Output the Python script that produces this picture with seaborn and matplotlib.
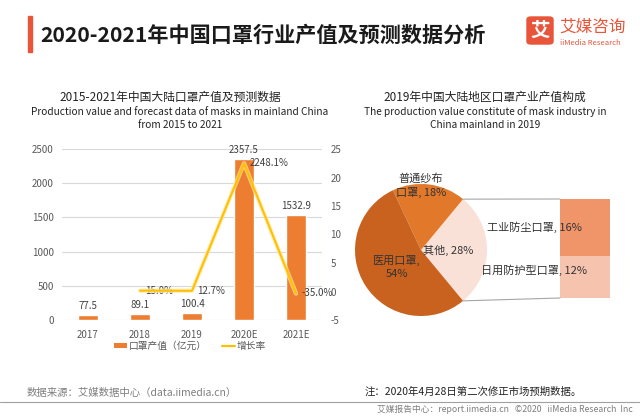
import matplotlib
matplotlib.use("Agg")
import matplotlib.pyplot as plt
import matplotlib.patheffects as pe
import seaborn as sns
import numpy as np
import pandas as pd
from matplotlib.patches import ConnectionPatch, FancyBboxPatch, Rectangle
from matplotlib.lines import Line2D
from matplotlib.patches import Patch

# ---------------- data ----------------
years = ["2017", "2018", "2019", "2020E", "2021E"]
output_value = [77.5, 89.1, 100.4, 2357.5, 1532.9]
growth_years = ["2018", "2019", "2020E", "2021E"]
growth_rate = [0.150, 0.127, 22.481, -0.350]
growth_labels = ["15.0%", "12.7%", "2248.1%", "-35.0%"]

pie_labels = ["其他, 28%", "普通纱布\n口罩, 18%", "医用口罩,\n54%"]
pie_values = [28, 18, 54]
sub_labels = ["日用防护型口罩, 12%", "工业防尘口罩, 16%"]
sub_values = [12, 16]

left_ticks = [0, 500, 1000, 1500, 2000, 2500]
right_ticks = [-5, 0, 5, 10, 15, 20, 25]

# ---------------- style ----------------
sns.set_theme(style="white")
plt.rcParams["font.family"] = ["Noto Sans CJK SC", "DejaVu Sans"]
plt.rcParams["axes.unicode_minus"] = False

BAR = "#ED7D31"
LINE = "#FFC000"
GRAY = "#595959"
C_PIE = ["#F9E1D8", "#E2782A", "#C8621E"]
C_SUB = ["#F6C3AE", "#F0946A"]

W, H = 640, 416
fig = plt.figure(figsize=(6.4, 4.16), dpi=100)
fig.patch.set_facecolor("white")


def px(x0, y0, x1, y1):
    return [x0 / W, 1 - y1 / H, (x1 - x0) / W, (y1 - y0) / H]


def ftext(x, y, s, **kw):
    fig.text(x / W, 1 - y / H, s, **kw)


# ---------------- header ----------------
fig.patches.append(Rectangle((28 / W, 1 - 52 / H), 4 / W, 36 / H,
                             transform=fig.transFigure, color="#E8553A", zorder=3))
ftext(40, 35, "2020-2021年中国口罩行业产值及预测数据分析", fontsize=15.2,
      fontweight="bold", color="#1a1a1a", va="center", ha="left")
fig.patches.append(FancyBboxPatch((527 / W, 1 - 44 / H), 26 / W, 27 / H,
                                  boxstyle="round,pad=0,rounding_size=0.006",
                                  transform=fig.transFigure, color="#E8553A", zorder=3))
ftext(540, 31, "艾", fontsize=14, fontweight="bold", color="white", ha="center", va="center", zorder=4)
ftext(559, 27, "艾媒咨询", fontsize=12, color="#E8553A", ha="left", va="center")
ftext(560, 43, "iiMedia Research", fontsize=5.5, color="#E8553A", ha="left", va="center")

# ---------------- left chart ----------------
ftext(170, 97, "2015-2021年中国大陆口罩产值及预测数据", fontsize=8.5, color="#222222", ha="center", va="center")
ftext(180, 112, "Production value and forecast data of masks in mainland China",
      fontsize=7.3, color="#222222", ha="center", va="center")
ftext(180, 125, "from 2015 to 2021", fontsize=7.3, color="#222222", ha="center", va="center")

ax = fig.add_axes(px(62, 149, 322, 320))
df = pd.DataFrame({"year": years, "value": output_value})
sns.barplot(data=df, x="year", y="value", color=BAR, width=0.4, saturation=1,
            ax=ax, zorder=3)
ax.set_ylim(left_ticks[0], left_ticks[-1])
ax.set_yticks(left_ticks)
ax.set_xlabel("")
ax.set_ylabel("")
ax.grid(axis="y", color="#D9D9D9", linewidth=0.8, zorder=0)
for s in ax.spines.values():
    s.set_visible(False)
ax.tick_params(axis="both", length=0, labelsize=7, colors=GRAY, pad=6)
ax.tick_params(axis="x", pad=7)
for c in ax.containers:
    ax.bar_label(c, labels=[f"{v:g}" for v in output_value], padding=3,
                 fontsize=7, color="#404040")

ax2 = ax.twinx()
gx = [years.index(y) for y in growth_years]
sns.lineplot(x=gx, y=growth_rate, color=LINE, linewidth=1.5, ax=ax2, zorder=4)
for ln in ax2.lines:
    ln.set_path_effects([pe.Stroke(linewidth=3.2, foreground="#FFE8A0", alpha=0.7), pe.Normal()])
ax2.set_ylim(right_ticks[0], right_ticks[-1])
ax2.set_yticks(right_ticks)
for s in ax2.spines.values():
    s.set_visible(False)
ax2.tick_params(axis="y", length=0, labelsize=7, colors=GRAY, pad=6)
ax2.set_xlim(-0.5, len(years) - 0.5)
for xi, yi, lab in zip(gx, growth_rate, growth_labels):
    ax2.annotate(lab, (xi, yi), xytext=(4, 0), textcoords="offset points",
                 fontsize=7, color="#404040", va="center", ha="left")

handles = [Patch(facecolor=BAR, edgecolor="none"),
           Line2D([0], [0], color=LINE, linewidth=1.6)]
fig.legend(handles, ["口罩产值（亿元）", "增长率"], loc="center",
           bbox_to_anchor=(190 / W, 1 - 346 / H), ncol=2, frameon=False,
           fontsize=7, labelcolor=GRAY, handlelength=1.3, handleheight=0.45,
           columnspacing=1.6, handletextpad=0.2)

# ---------------- right chart ----------------
ftext(485, 97, "2019年中国大陆地区口罩产业产值构成", fontsize=8.5, color="#222222", ha="center", va="center")
ftext(485, 112, "The production value constitute of mask industry in",
      fontsize=7.3, color="#222222", ha="center", va="center")
ftext(485, 125, "China mainland in 2019", fontsize=7.3, color="#222222", ha="center", va="center")

R = 66
cx, cy = 421, 250
pax = fig.add_axes(px(cx - R, cy - R, cx + R, cy + R))
start = -pie_values[0] / 100 * 360 / 2
pax.pie(pie_values, colors=C_PIE, startangle=start, counterclock=True,
        wedgeprops=dict(linewidth=0))
pax.set_xlim(-1, 1)
pax.set_ylim(-1, 1)
pax.set_aspect("equal")
pax.axis("off")
pax.text(0.41, 0.0, pie_labels[0], fontsize=8, color="#333333", ha="center", va="center")
pax.text(0.0, 0.98, pie_labels[1], fontsize=8, color="#333333", ha="center", va="center",
         linespacing=1.3)
pax.text(-0.36, -0.26, pie_labels[2], fontsize=8, color="#333333", ha="center", va="center",
         linespacing=1.3)

bax = fig.add_axes(px(560, 199, 610, 298))
bottoms = np.concatenate([[0], np.cumsum(sub_values)[:-1]])
for i, (v, b) in enumerate(zip(sub_values, bottoms)):
    bax.bar(0, v, bottom=b, width=1.0, color=C_SUB[i], linewidth=0)
bax.set_xlim(-0.5, 0.5)
bax.set_ylim(0, sum(sub_values))
bax.axis("off")
bax.text(-1.02, bottoms[1] + sub_values[1] * 0.5, sub_labels[1], fontsize=8,
         color="#333333", ha="center", va="center")
bax.text(-1.02, bottoms[0] + sub_values[0] * 0.66, sub_labels[0], fontsize=8,
         color="#333333", ha="center", va="center")

ang = np.deg2rad(pie_values[0] / 100 * 360 / 2)
for sgn, yb in [(1, sum(sub_values)), (-1, 0)]:
    con = ConnectionPatch(xyA=(np.cos(ang), sgn * np.sin(ang)), coordsA=pax.transData,
                          xyB=(-0.5, yb), coordsB=bax.transData,
                          color="#A6A6A6", linewidth=0.8)
    fig.add_artist(con)

# ---------------- footer ----------------
ftext(27, 393, "数据来源：艾媒数据中心（data.iimedia.cn）", fontsize=7.5, color="#7F7F7F",
      ha="left", va="center")
ftext(365, 392, "注：2020年4月28日第二次修正市场预期数据。", fontsize=7.5, color="#222222",
      ha="left", va="center")
fig.add_artist(Line2D([0, 1], [1 - 402 / H, 1 - 402 / H], transform=fig.transFigure,
                      color="#A0A0A0", linewidth=0.8))
ftext(633, 409.5, "艾媒报告中心：report.iimedia.cn   ©2020   iiMedia Research  Inc",
      fontsize=6.3, color="#7F7F7F", ha="right", va="center")

fig.savefig("out.png", dpi=100, facecolor="white")
